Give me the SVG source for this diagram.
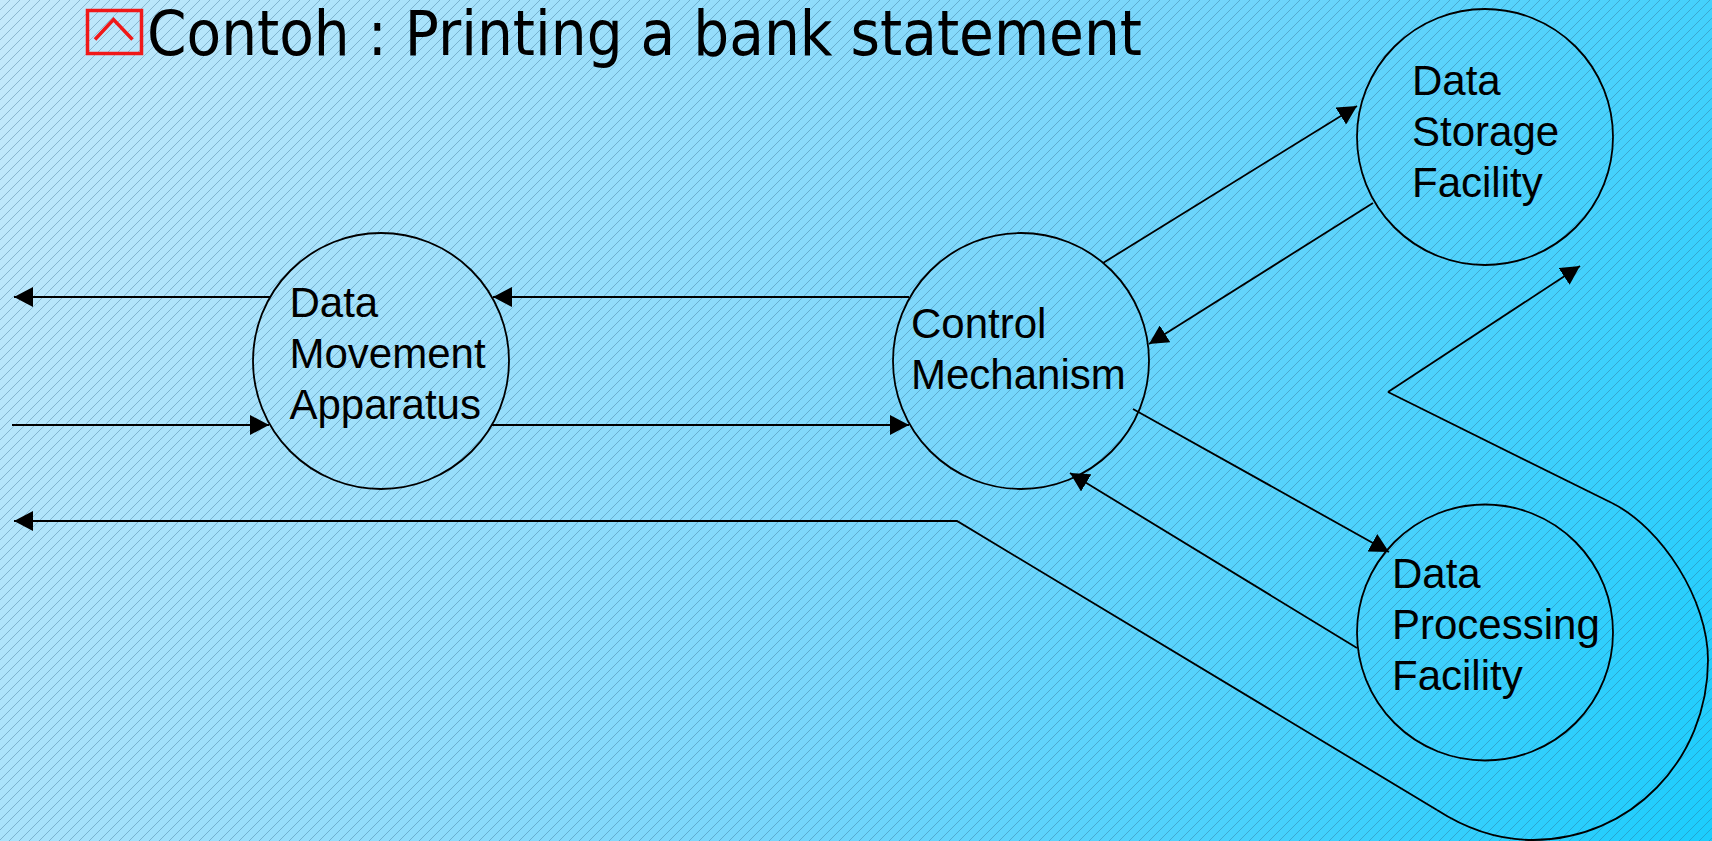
<svg xmlns="http://www.w3.org/2000/svg" width="1712" height="841" viewBox="0 0 1712 841">
  <defs>
    <linearGradient id="bg" gradientUnits="userSpaceOnUse" x1="0" y1="0" x2="1712" y2="841">
      <stop offset="0" stop-color="#c4e9fb"/>
      <stop offset="0.55" stop-color="#78d6fb"/>
      <stop offset="1" stop-color="#1ccdfd"/>
    </linearGradient>
    <pattern id="hatch" patternUnits="userSpaceOnUse" width="10" height="10">
      <path d="M-1,11 L11,-1" stroke="#2d5f80" stroke-opacity="0.45" stroke-width="0.8"/>
    </pattern>
    <marker id="arrow" markerUnits="userSpaceOnUse" markerWidth="20" markerHeight="20" refX="19" refY="10" orient="auto">
      <path d="M0,0 L19,10 L0,20 Z" fill="#000"/>
    </marker>
  </defs>
  <style>
    .node { fill: none; stroke: #000; stroke-width: 1.8; }
    .label { font-family: "Liberation Sans", Arial, sans-serif; font-size: 42px; fill: #000; }
    .flow { fill: none; stroke: #000; stroke-width: 1.8; }
    .flow.head { marker-end: url(#arrow); }
    .title { font-family: "DejaVu Sans", sans-serif; font-size: 62px; fill: #000; }
    .bullet { fill: none; stroke: #f01818; stroke-width: 3.5; }
  </style>

  <!-- background -->
  <rect x="0" y="0" width="1712" height="841" fill="url(#bg)"/>
  <rect x="0" y="0" width="1712" height="841" fill="url(#hatch)"/>

  <!-- heading -->
  <g id="title">
    <rect class="bullet" x="87.5" y="10.5" width="54" height="43"/>
    <polyline class="bullet" points="95,39.5 113.5,19.5 132.5,39.5"/>
    <text class="title" x="147" y="55" textLength="995" lengthAdjust="spacingAndGlyphs">Contoh : Printing a bank statement</text>
  </g>

  <!-- flows -->
  <g id="connectors">
    <line class="flow head" x1="270" y1="297" x2="14" y2="297"/>
    <line class="flow head" x1="12" y1="425" x2="269" y2="425"/>
    <line class="flow head" x1="909" y1="297" x2="493" y2="297"/>
    <line class="flow head" x1="492" y1="425" x2="909" y2="425"/>
    <line class="flow head" x1="1103" y1="263" x2="1357" y2="106"/>
    <line class="flow head" x1="1373" y1="203" x2="1149" y2="344"/>
    <line class="flow head" x1="1133" y1="409" x2="1389" y2="552"/>
    <line class="flow head" x1="1357" y1="648" x2="1070" y2="473"/>
    <!-- return loop around the processing facility -->
    <line class="flow head" x1="1388" y1="392" x2="1580" y2="266"/>
    <line class="flow" x1="1388" y1="392" x2="1612" y2="503"/>
    <path class="flow" d="M1612,503 C1662,528 1708,600 1708,660 C1708,760 1630,840 1533,840 C1495,840 1465,828 1437,810"/>
    <polyline class="flow head" points="1437,810 957,521 14,521"/>
  </g>

  <!-- processes -->
  <g id="data-movement">
    <circle class="node" cx="381" cy="361" r="128"/>
    <text class="label" x="289.5" y="316.7">Data<tspan x="289.5" dy="51">Movement</tspan><tspan x="289.5" dy="51">Apparatus</tspan></text>
  </g>
  <g id="control-mechanism">
    <circle class="node" cx="1021" cy="361" r="128"/>
    <text class="label" x="911" y="337.7">Control<tspan x="911" dy="51">Mechanism</tspan></text>
  </g>
  <g id="data-storage">
    <circle class="node" cx="1485" cy="137" r="128"/>
    <text class="label" x="1412" y="95">Data<tspan x="1412" dy="51">Storage</tspan><tspan x="1412" dy="51">Facility</tspan></text>
  </g>
  <g id="data-processing">
    <circle class="node" cx="1485" cy="632.5" r="128"/>
    <text class="label" x="1392" y="588.3">Data<tspan x="1392" dy="51">Processing</tspan><tspan x="1392" dy="51">Facility</tspan></text>
  </g>
</svg>
